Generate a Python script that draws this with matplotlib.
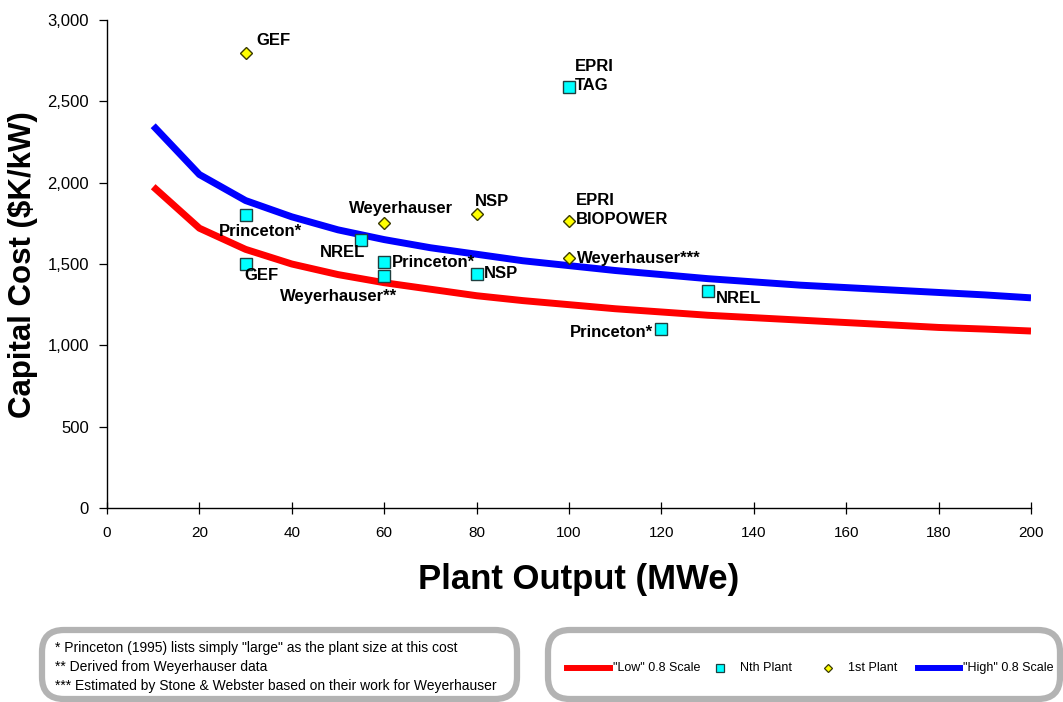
import numpy as np
import matplotlib
matplotlib.use('Agg')
import matplotlib.pyplot as plt
from matplotlib.patches import FancyBboxPatch
from matplotlib.lines import Line2D
from matplotlib.ticker import FuncFormatter

# scale curves
plant_mw = [10, 20, 30, 40, 50, 60, 70, 80, 90, 100,
            110, 120, 130, 140, 150, 160, 170, 180, 190, 200]
low_cost = [1975, 1720, 1590, 1500, 1435, 1385, 1345, 1305, 1275, 1250,
            1225, 1205, 1185, 1170, 1155, 1140, 1125, 1110, 1100, 1088]
high_cost = [2350, 2050, 1890, 1790, 1710, 1650, 1600, 1560, 1520, 1490,
             1460, 1435, 1410, 1390, 1370, 1355, 1340, 1325, 1310, 1292]

# Nth plant estimates
nth_x = [30, 30, 55, 60, 60, 80, 100, 120, 130]
nth_y = [1800, 1500, 1650, 1510, 1425, 1440, 2590, 1100, 1332]
nth_labels = ['Princeton*', 'GEF', 'NREL', 'Princeton*', 'Weyerhauser**',
              'NSP', 'EPRI\nTAG', 'Princeton*', 'NREL']

# 1st plant estimates
first_x = [30, 60, 80, 100, 100]
first_y = [2800, 1750, 1810, 1765, 1535]
first_labels = ['GEF', 'Weyerhauser', 'NSP', 'EPRI\nBIOPOWER', 'Weyerhauser***']

footnotes = ['* Princeton (1995) lists simply "large" as the plant size at this cost',
             '** Derived from Weyerhauser data',
             '*** Estimated by Stone & Webster based on their work for Weyerhauser']

# label offsets in points (dx, dy, ha)
nth_offsets = [(10.8, -11.5, 'center'), (-0.7, -8.6, 'left'), (2.9, -9.4, 'right'),
               (5.8, 0, 'left'), (9.4, -14.4, 'right'), (5, 0, 'left'),
               (4.3, 7.6, 'left'), (-5.8, -2.2, 'right'), (5.8, -5, 'left')]
first_offsets = [(8, 8.6, 'left'), (12.2, 10.8, 'center'), (-1.4, 8.6, 'left'),
                 (5, 7.6, 'left'), (5.8, 0, 'left')]

W, H = 1063, 702
SANS = ['Liberation Sans', 'DejaVu Sans']

fig = plt.figure(figsize=(W / 100, H / 100), dpi=100)
ax = fig.add_axes([107 / W, 1 - 508 / H, 924 / W, 488 / H])

ax.plot(plant_mw, low_cost, color='#ff0000', lw=5, solid_capstyle='butt', zorder=2)
ax.plot(plant_mw, high_cost, color='#0000ff', lw=5, solid_capstyle='butt', zorder=2)
ax.plot(nth_x, nth_y, ls='none', marker='s', ms=8.5, mfc='#00ffff',
        mec='#1f3f3f', mew=1, zorder=4, clip_on=False)
ax.plot(first_x, first_y, ls='none', marker='D', ms=6, mfc='#ffff00',
        mec='#3a3a00', mew=1, zorder=4, clip_on=False)

for x, y, lab, (dx, dy, ha) in zip(nth_x, nth_y, nth_labels, nth_offsets):
    ax.annotate(lab, (x, y), xytext=(dx, dy), textcoords='offset points',
                ha=ha, va='center', fontsize=12, fontweight='bold',
                family=SANS, linespacing=1.35, zorder=5)
for x, y, lab, (dx, dy, ha) in zip(first_x, first_y, first_labels, first_offsets):
    ax.annotate(lab, (x, y), xytext=(dx, dy), textcoords='offset points',
                ha=ha, va='center', fontsize=12, fontweight='bold',
                family=SANS, linespacing=1.35, zorder=5)

ax.set_xlim(0, 200)
ax.set_ylim(0, 3000)
ax.set_xticks(range(0, 201, 20))
ax.set_yticks(range(0, 3001, 500))
ax.yaxis.set_major_formatter(FuncFormatter(lambda v, p: f'{int(v):,}'))
for s in ['top', 'right']:
    ax.spines[s].set_visible(False)
for s in ['left', 'bottom']:
    ax.spines[s].set_linewidth(1)
ax.tick_params(axis='y', direction='out', length=6, width=0.9, pad=7, labelsize=12)
ax.tick_params(axis='x', direction='inout', length=8, width=0.9, pad=9, labelsize=11)
for t in ax.get_yticklabels() + ax.get_xticklabels():
    t.set_family(SANS)

fig.text(23 / W, 1 - 265 / H, 'Capital Cost ($K/kW)', rotation=90, ha='center',
         va='center', fontsize=22.5, fontweight='bold', family=SANS)
fig.text(579 / W, 1 - 579 / H, 'Plant Output (MWe)', ha='center', va='center',
         fontsize=25, fontweight='bold', family=SANS)

# footnote box
px = fig.dpi_scale_trans
fig.add_artist(FancyBboxPatch((0.42, 0.03), 4.75, 0.69,
                              boxstyle='round,pad=0,rounding_size=0.22',
                              transform=px, fc='white', ec='#b3b3b3', lw=4.5))
for i, line in enumerate(footnotes):
    fig.text(55 / W, 1 - (648 + 19 * i) / H, line, ha='left', va='center',
             fontsize=10, family=SANS)

# legend box
fig.add_artist(FancyBboxPatch((5.48, 0.03), 5.12, 0.69,
                              boxstyle='round,pad=0,rounding_size=0.22',
                              transform=px, fc='white', ec='#b3b3b3', lw=4.5))
ly = 1 - 668 / H
fig.add_artist(Line2D([567 / W, 610 / W], [ly, ly], color='#ff0000', lw=4.3))
fig.text(613 / W, ly, '"Low" 0.8 Scale', ha='left', va='center', fontsize=9, family=SANS)
fig.add_artist(Line2D([720 / W], [ly], ls='none', marker='s', ms=5.5, mfc='#00ffff',
                      mec='#1f3f3f', mew=0.9))
fig.text(740 / W, ly, 'Nth Plant', ha='left', va='center', fontsize=9, family=SANS)
fig.add_artist(Line2D([828 / W], [ly], ls='none', marker='D', ms=4.5, mfc='#ffff00',
                      mec='#3a3a00', mew=0.9))
fig.text(848 / W, ly, '1st Plant', ha='left', va='center', fontsize=9, family=SANS)
fig.add_artist(Line2D([918 / W, 960 / W], [ly, ly], color='#0000ff', lw=4.3))
fig.text(963 / W, ly, '"High" 0.8 Scale', ha='left', va='center', fontsize=9, family=SANS)

fig.savefig('out.png', dpi=100)
